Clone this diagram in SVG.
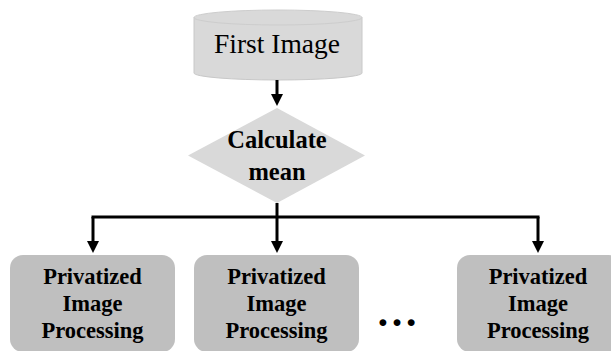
<svg xmlns="http://www.w3.org/2000/svg" width="611" height="351" viewBox="0 0 611 351">
<style>
.t{font-family:"Liberation Serif","Times New Roman",serif;fill:#000;text-anchor:middle}
.b{font-weight:bold}
.box{fill:#BFBFBF}
.conn{fill:none;stroke:#000;stroke-width:3}
</style>
<defs>
<marker id="ah" markerWidth="4" markerHeight="4" refX="2" refY="2" orient="auto" markerUnits="strokeWidth" viewBox="0 0 4 4">
<path d="M0,0 L4,2 L0,4 Z" fill="#000"/>
</marker>
</defs>
<rect width="611" height="351" fill="#fff"/>
<g id="first-image">
<path d="M194,17.5 L194,73 A84,7 0 0 0 362,73 L362,17.5 Z" fill="#D9D9D9" stroke="#C8C8C8" stroke-width="1"/>
<ellipse cx="278" cy="17.5" rx="84" ry="7.5" fill="#D9D9D9" stroke="#CDCDCD" stroke-width="1"/>
<text class="t" x="277" y="53" font-size="27.5">First Image</text>
</g>
<g id="calculate-mean">
<polygon points="277,108 365,155.5 277,203 188,155.5" fill="#D9D9D9"/>
<text class="t b" x="277" y="148" font-size="24.5">Calculate</text>
<text class="t b" x="277" y="180" font-size="24.5">mean</text>
</g>
<g id="proc1">
<rect class="box" x="10" y="255" width="165" height="97" rx="13"/>
<text class="t b" x="92.5" y="284" font-size="22.5">Privatized</text>
<text class="t b" x="92.5" y="311" font-size="22.5">Image</text>
<text class="t b" x="92.5" y="338" font-size="22.5">Processing</text>
</g>
<g id="proc2">
<rect class="box" x="194" y="255" width="165" height="97" rx="13"/>
<text class="t b" x="276.5" y="284" font-size="22.5">Privatized</text>
<text class="t b" x="276.5" y="311" font-size="22.5">Image</text>
<text class="t b" x="276.5" y="338" font-size="22.5">Processing</text>
</g>
<g id="proc3">
<rect class="box" x="457" y="255" width="165" height="97" rx="13"/>
<text class="t b" x="538" y="284" font-size="22.5">Privatized</text>
<text class="t b" x="538" y="311" font-size="22.5">Image</text>
<text class="t b" x="538" y="338" font-size="22.5">Processing</text>
</g>
<g id="ellipsis">
<text class="t b" x="397" y="326" font-size="42">…</text>
</g>
<g id="connectors">
<line class="conn" x1="277" y1="80" x2="277" y2="100" marker-end="url(#ah)"/>
<polyline class="conn" points="277,203 277,217"/>
<line class="conn" x1="91.5" y1="217" x2="539.5" y2="217"/>
<line class="conn" x1="93" y1="217" x2="93" y2="247" marker-end="url(#ah)"/>
<line class="conn" x1="277" y1="217" x2="277" y2="247" marker-end="url(#ah)"/>
<line class="conn" x1="538" y1="217" x2="538" y2="247" marker-end="url(#ah)"/>
</g>
</svg>
